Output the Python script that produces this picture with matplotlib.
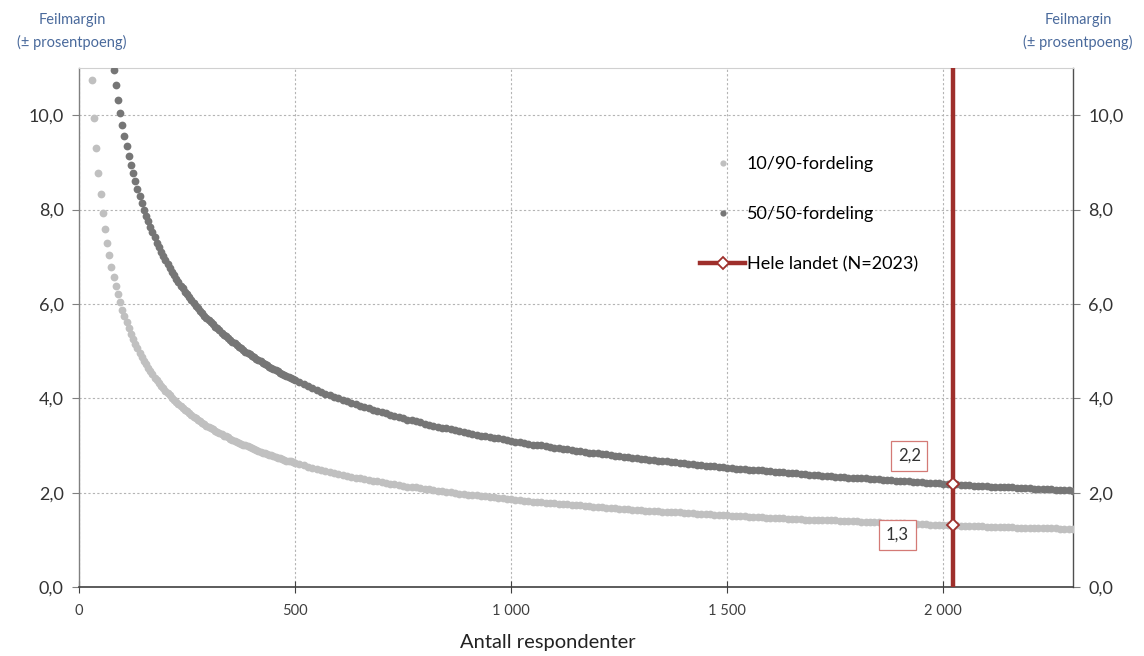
#!/usr/bin/env python3
# -*- coding: utf-8 -*-
"""
Feilmargin vs antall respondenter: to prikkserier (10/90 og 50/50) + rød linje for hele landet.
"""
import matplotlib
matplotlib.use("Agg")
import matplotlib.pyplot as plt
from matplotlib.lines import Line2D

# --- data (lest av figuren) ---
N_LOW_LIGHT = list(range(30, 505, 5))      # 10/90: prikker hver 5. respondent opp til 500
N_LOW_DARK = list(range(80, 505, 5))       # 50/50: synlig fra 80
N_HIGH = list(range(510, 2310, 10))        # deretter hver 10.

LIGHT_LOW = [
    10.74, 9.94, 9.30, 8.77, 8.32, 7.93, 7.59, 7.29, 7.03, 6.79,
    6.57, 6.38, 6.20, 6.03, 5.88, 5.74, 5.61, 5.48, 5.37, 5.26,
    5.16, 5.06, 4.97, 4.88, 4.80, 4.72, 4.65, 4.58, 4.51, 4.44,
    4.38, 4.32, 4.27, 4.21, 4.16, 4.11, 4.06, 4.01, 3.96, 3.92,
    3.88, 3.84, 3.80, 3.76, 3.72, 3.68, 3.65, 3.61, 3.58, 3.55,
    3.51, 3.48, 3.45, 3.42, 3.39, 3.37, 3.34, 3.31, 3.29, 3.26,
    3.24, 3.21, 3.19, 3.17, 3.14, 3.12, 3.10, 3.08, 3.06, 3.04,
    3.02, 3.00, 2.98, 2.96, 2.94, 2.92, 2.90, 2.89, 2.87, 2.85,
    2.84, 2.82, 2.80, 2.79, 2.77, 2.76, 2.74, 2.73, 2.71, 2.70,
    2.68, 2.67, 2.66, 2.64, 2.63,
]
DARK_LOW = [
    10.96, 10.63, 10.33, 10.05, 9.80, 9.56, 9.34, 9.14, 8.95, 8.77,
    8.60, 8.43, 8.28, 8.14, 8.00, 7.87, 7.75, 7.63, 7.52, 7.41,
    7.30, 7.21, 7.11, 7.02, 6.93, 6.84, 6.76, 6.68, 6.61, 6.53,
    6.46, 6.39, 6.33, 6.26, 6.20, 6.14, 6.08, 6.02, 5.96, 5.91,
    5.86, 5.81, 5.75, 5.71, 5.66, 5.61, 5.57, 5.52, 5.48, 5.44,
    5.39, 5.35, 5.31, 5.28, 5.24, 5.20, 5.17, 5.13, 5.09, 5.06,
    5.03, 4.99, 4.96, 4.93, 4.90, 4.87, 4.84, 4.81, 4.78, 4.75,
    4.73, 4.70, 4.67, 4.65, 4.62, 4.59, 4.57, 4.54, 4.52, 4.50,
    4.47, 4.45, 4.43, 4.40, 4.38,
]
LIGHT_HIGH = [
    2.60, 2.58, 2.55, 2.53, 2.51, 2.48, 2.46, 2.44, 2.42, 2.40,
    2.38, 2.36, 2.34, 2.32, 2.31, 2.29, 2.27, 2.25, 2.24, 2.22,
    2.21, 2.19, 2.18, 2.16, 2.15, 2.13, 2.12, 2.11, 2.09, 2.08,
    2.07, 2.05, 2.04, 2.03, 2.02, 2.01, 1.99, 1.98, 1.97, 1.96,
    1.95, 1.94, 1.93, 1.92, 1.91, 1.90, 1.89, 1.88, 1.87, 1.86,
    1.85, 1.84, 1.83, 1.82, 1.81, 1.81, 1.80, 1.79, 1.78, 1.77,
    1.76, 1.76, 1.75, 1.74, 1.73, 1.73, 1.72, 1.71, 1.70, 1.70,
    1.69, 1.68, 1.68, 1.67, 1.66, 1.66, 1.65, 1.64, 1.64, 1.63,
    1.62, 1.62, 1.61, 1.61, 1.60, 1.59, 1.59, 1.58, 1.58, 1.57,
    1.57, 1.56, 1.55, 1.55, 1.54, 1.54, 1.53, 1.53, 1.52, 1.52,
    1.51, 1.51, 1.50, 1.50, 1.49, 1.49, 1.48, 1.48, 1.47, 1.47,
    1.47, 1.46, 1.46, 1.45, 1.45, 1.44, 1.44, 1.43, 1.43, 1.43,
    1.42, 1.42, 1.41, 1.41, 1.41, 1.40, 1.40, 1.39, 1.39, 1.39,
    1.38, 1.38, 1.37, 1.37, 1.37, 1.36, 1.36, 1.36, 1.35, 1.35,
    1.35, 1.34, 1.34, 1.33, 1.33, 1.33, 1.32, 1.32, 1.32, 1.31,
    1.31, 1.31, 1.31, 1.30, 1.30, 1.30, 1.29, 1.29, 1.29, 1.28,
    1.28, 1.28, 1.27, 1.27, 1.27, 1.27, 1.26, 1.26, 1.26, 1.25,
    1.25, 1.25, 1.25, 1.24, 1.24, 1.24, 1.23, 1.23, 1.23, 1.23,
]
DARK_HIGH = [
    4.34, 4.30, 4.26, 4.22, 4.18, 4.14, 4.10, 4.07, 4.03, 4.00,
    3.97, 3.94, 3.90, 3.87, 3.84, 3.81, 3.79, 3.76, 3.73, 3.70,
    3.68, 3.65, 3.63, 3.60, 3.58, 3.55, 3.53, 3.51, 3.49, 3.46,
    3.44, 3.42, 3.40, 3.38, 3.36, 3.34, 3.32, 3.30, 3.28, 3.27,
    3.25, 3.23, 3.21, 3.20, 3.18, 3.16, 3.15, 3.13, 3.11, 3.10,
    3.08, 3.07, 3.05, 3.04, 3.02, 3.01, 3.00, 2.98, 2.97, 2.95,
    2.94, 2.93, 2.92, 2.90, 2.89, 2.88, 2.87, 2.85, 2.84, 2.83,
    2.82, 2.81, 2.79, 2.78, 2.77, 2.76, 2.75, 2.74, 2.73, 2.72,
    2.71, 2.70, 2.69, 2.68, 2.67, 2.66, 2.65, 2.64, 2.63, 2.62,
    2.61, 2.60, 2.59, 2.58, 2.57, 2.56, 2.56, 2.55, 2.54, 2.53,
    2.52, 2.51, 2.51, 2.50, 2.49, 2.48, 2.47, 2.47, 2.46, 2.45,
    2.44, 2.43, 2.43, 2.42, 2.41, 2.41, 2.40, 2.39, 2.38, 2.38,
    2.37, 2.36, 2.36, 2.35, 2.34, 2.34, 2.33, 2.32, 2.32, 2.31,
    2.30, 2.30, 2.29, 2.28, 2.28, 2.27, 2.27, 2.26, 2.25, 2.25,
    2.24, 2.24, 2.23, 2.22, 2.22, 2.21, 2.21, 2.20, 2.20, 2.19,
    2.19, 2.18, 2.18, 2.17, 2.16, 2.16, 2.15, 2.15, 2.14, 2.14,
    2.13, 2.13, 2.12, 2.12, 2.11, 2.11, 2.10, 2.10, 2.09, 2.09,
    2.08, 2.08, 2.08, 2.07, 2.07, 2.06, 2.06, 2.05, 2.05, 2.04,
]

HELE_N = 2023
HELE_VALUES = [2.18, 1.31]          # 50/50 og 10/90 ved N=2023

LABEL_LIGHT = "10/90-fordeling"
LABEL_DARK = "50/50-fordeling"
LABEL_HELE = f"Hele landet (N={HELE_N})"
X_TICKS = [0, 500, 1000, 1500, 2000]
Y_TICKS = [0, 2, 4, 6, 8, 10]

COLOR_LIGHT = "#c0c0c0"
COLOR_DARK = "#767676"
COLOR_RED = "#9e2f2b"
COLOR_HEAD = "#4a6a9c"
FONT = ["Lato", "DejaVu Sans"]
MS = 5.6

plt.rcParams["font.family"] = FONT

fig = plt.figure(figsize=(11.44, 6.56), dpi=100)
ax = fig.add_axes([79 / 1144, 69 / 656, 994 / 1144, 519 / 656])

ax.plot(N_LOW_LIGHT + N_HIGH, LIGHT_LOW + LIGHT_HIGH, ls="none", marker="o",
        ms=MS, color=COLOR_LIGHT, mec="none", zorder=3)
ax.plot(N_LOW_DARK + N_HIGH, DARK_LOW + DARK_HIGH, ls="none", marker="o",
        ms=MS, color=COLOR_DARK, mec="none", zorder=3)

ax.axvline(HELE_N, color=COLOR_RED, lw=3.2, zorder=4)
ax.plot([HELE_N] * len(HELE_VALUES), HELE_VALUES, ls="none", marker="D", ms=6,
        mfc="white", mec=COLOR_RED, mew=1.3, zorder=5)

# verdietiketter
box = dict(boxstyle="square,pad=0.4", fc="white", ec="#d47a76", lw=0.9)
label_pos = [(1921, 2.78), (1894, 1.10)]
for (lx, ly), v in zip(label_pos, HELE_VALUES):
    ax.text(lx, ly, f"{v:.1f}".replace(".", ","), ha="center", va="center",
            fontsize=12, color="#333333", bbox=box, zorder=6)

ax.set_xlim(0, 2300)
ax.set_ylim(0, 11)
ax.set_xticks(X_TICKS)
ax.set_xticklabels([f"{t:,}".replace(",", " ") for t in X_TICKS], fontsize=10.5, color="#404040")
ax.set_yticks(Y_TICKS)
ax.set_yticklabels([f"{t:.1f}".replace(".", ",") for t in Y_TICKS], fontsize=13, color="#333333")
ax.tick_params(axis="y", which="both", right=True, labelright=True, direction="out",
               length=5, color="#808080", pad=6)
ax.tick_params(axis="x", direction="inout", length=8, color="#404040", pad=8)

ax.grid(True, color="#b4b4b4", lw=0.8, ls=(0, (2, 2)))
ax.set_axisbelow(True)
for side, col, lw in [("left", "#808080", 1.0), ("right", "#505050", 1.0),
                      ("bottom", "#404040", 1.2), ("top", "#d0d0d0", 0.8)]:
    ax.spines[side].set_color(col)
    ax.spines[side].set_linewidth(lw)

ax.set_xlabel("Antall respondenter", fontsize=14.5, color="#222222")
ax.xaxis.set_label_coords((548 - 79) / 994, -0.09)

# overskrifter for y-aksene
for xc in (72 / 1144, 1078 / 1144):
    fig.text(xc, 1 - 20 / 656, "Feilmargin", ha="center", va="center", fontsize=10.5, color=COLOR_HEAD)
    fig.text(xc, 1 - 42 / 656, "(± prosentpoeng)", ha="center", va="center", fontsize=10.5, color=COLOR_HEAD)

handles = [
    Line2D([], [], ls="none", marker="o", ms=4.5, color=COLOR_LIGHT, mec="none"),
    Line2D([], [], ls="none", marker="o", ms=4.5, color=COLOR_DARK, mec="none"),
    Line2D([], [], color=COLOR_RED, lw=3.2, marker="D", ms=6, mfc="white", mec=COLOR_RED, mew=1.3),
]
ax.legend(handles, [LABEL_LIGHT, LABEL_DARK, LABEL_HELE], loc="upper left",
          bbox_to_anchor=((700 - 79) / 994, (587 - 156) / 519), frameon=False,
          fontsize=13, handlelength=2.5, handletextpad=0.1, labelspacing=1.9,
          borderpad=0, borderaxespad=0)

fig.savefig("out.png", dpi=100)
